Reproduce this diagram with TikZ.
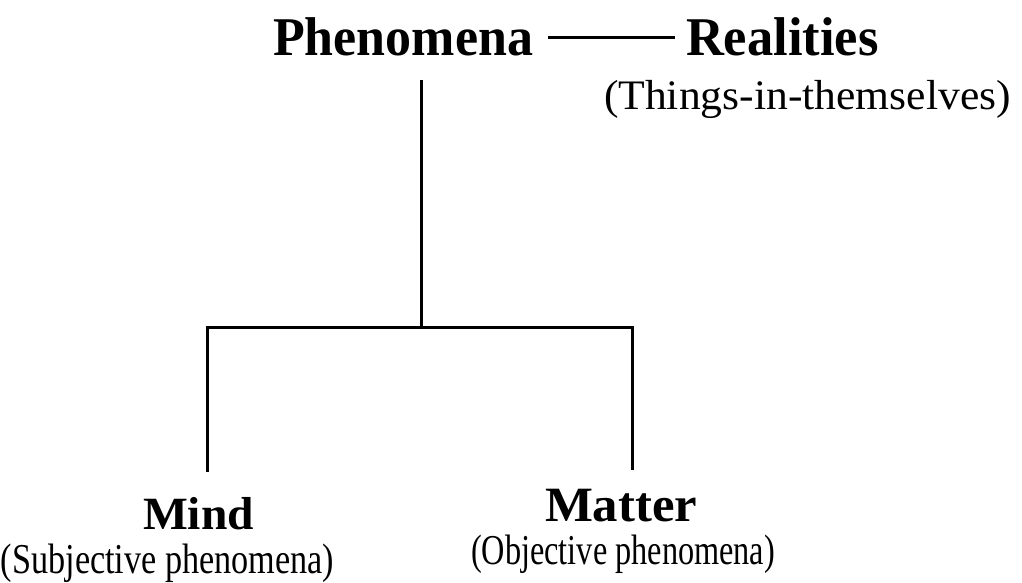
\documentclass[tikz,border=0pt]{standalone}
\usepackage{fontspec}
\usepackage{graphicx}
\setmainfont{Liberation Serif}
\tikzset{
  conn/.style={line width=3pt, black},
  txt/.style={inner sep=0pt, outer sep=0pt, anchor=base west},
}
\newcommand{\bigbold}[2]{{\fontsize{#1}{#1}\selectfont\bfseries #2}}
\newcommand{\subtxt}[2]{{\fontsize{#1}{#1}\selectfont #2}}
\begin{document}
\begin{tikzpicture}[x=1pt,y=-1pt]
\useasboundingbox (0,0) rectangle (1022,583);
\node[txt] (Phen) at (273,56) {\scalebox{1}[1.05]{\bigbold{52}{Phenomena}}};
\node[txt] (Real) at (686,56) {\scalebox{1.01}[1.05]{\bigbold{52}{Realities}}};
\node[txt] (Things) at (604,110) {\scalebox{1.09}[1.05]{\subtxt{40}{(Things-in-themselves)}}};
\node[txt] (Mind) at (143,529) {\scalebox{1.08}[1.05]{\bigbold{44}{Mind}}};
\node[txt] (Matter) at (545,521) {\scalebox{1.08}[1.05]{\bigbold{47}{Matter}}};
\node[txt] (Subj) at (1,573) {\scalebox{0.9}[1.12]{\subtxt{38}{(Subjective phenomena)}}};
\node[txt] (Obj) at (471,564) {\scalebox{0.85}[1.12]{\subtxt{38}{(Objective phenomena)}}};
\coordinate (top) at (421,80);
\coordinate (j) at (421,327);
\coordinate (hl) at (207,327);
\coordinate (hr) at (632,327);
\coordinate (ml) at (207,472);
\coordinate (mr) at (632,470);
\draw[conn] ([xshift=15pt]Phen.east) -- ([xshift=-11pt]Real.west);
\draw[conn] (top) -- (j);
\draw[conn] ([xshift=-1.5pt]hl) -- ([xshift=1.5pt]hr);
\draw[conn] (hl) -- (ml);
\draw[conn] (hr) -- (mr);
\end{tikzpicture}
\end{document}
